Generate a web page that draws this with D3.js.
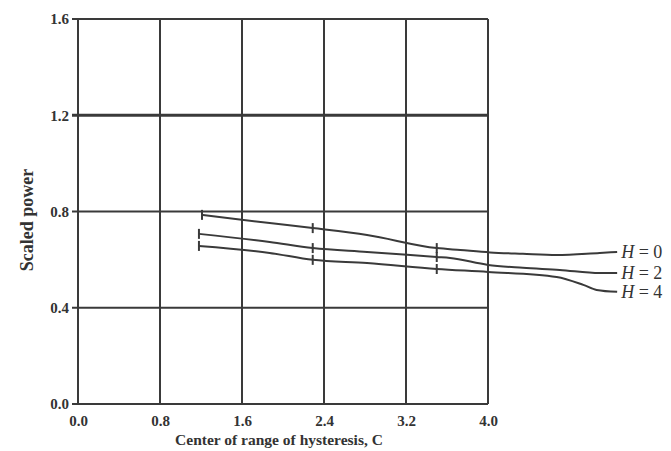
<!DOCTYPE html>
<html><head><meta charset="utf-8">
<script src="https://cdn.jsdelivr.net/npm/d3@7"></script>
<style>body{margin:0;background:#fff}svg{display:block}text{font-family:"Liberation Serif","DejaVu Serif",serif;fill:#333}</style>
</head><body><svg id="c" width="671" height="451"></svg>
<script>
const xTicks = [0, 0.8, 1.6, 2.4, 3.2, 4.0];
const xTickLabels = ["0.0", "0.8", "1.6", "2.4", "3.2", "4.0"];
const yTicks = [0, 0.4, 0.8, 1.2, 1.6];
const yTickLabels = ["0.0", "0.4", "0.8", "1.2", "1.6"];
const seriesNames = ["H = 0", "H = 2", "H = 4"];
const curveC = [
  [1.21, 1.87, 2.29, 2.82, 3.50, 3.73, 4.02, 4.34, 4.67, 5.09, 5.26],
  [1.18, 1.87, 2.29, 2.82, 3.50, 3.63, 4.00, 4.34, 4.70, 5.09, 5.26],
  [1.18, 1.87, 2.29, 2.82, 3.50, 4.00, 4.67, 4.93, 5.06, 5.26]
];
const curveP = [
  [0.786, 0.752, 0.731, 0.702, 0.648, 0.640, 0.630, 0.624, 0.619, 0.628, 0.632],
  [0.707, 0.673, 0.648, 0.632, 0.611, 0.607, 0.578, 0.566, 0.557, 0.544, 0.544],
  [0.657, 0.628, 0.599, 0.586, 0.561, 0.549, 0.528, 0.495, 0.474, 0.466]
];
const markerC = [[1.21, 2.29, 3.50], [1.18, 2.29, 3.50], [1.18, 2.29, 3.50]];
const markerP = [[0.786, 0.731, 0.648], [0.707, 0.648, 0.611], [0.657, 0.599, 0.561]];

const svg = d3.select("#c");
const x = d3.scaleLinear().domain([0, 4.0]).range([78, 488]);
const y = d3.scaleLinear().domain([0, 1.6]).range([404, 19]);
const ink = "#3a3a3a";

// grid
svg.append("g").selectAll("line").data(xTicks).join("line")
  .attr("x1", d => x(d)).attr("x2", d => x(d)).attr("y1", y(0)).attr("y2", y(1.6))
  .attr("stroke", ink).attr("stroke-width", 2);
svg.append("g").selectAll("line").data(yTicks).join("line")
  .attr("x1", x(0) - 6).attr("x2", x(4.0)).attr("y1", d => y(d)).attr("y2", d => y(d))
  .attr("stroke", ink).attr("stroke-width", (d) => d === 1.2 ? 3 : 2);

// axes
const xa = svg.append("g").attr("transform", `translate(0,${y(0)})`)
  .call(d3.axisBottom(x).tickValues(xTicks).tickFormat((d, i) => xTickLabels[i]).tickSize(0).tickPadding(11));
xa.select(".domain").remove();
xa.selectAll("text").attr("font-size", 15).attr("font-weight", "bold").attr("fill", "#444").attr("font-family", "Liberation Serif");
const ya = svg.append("g").attr("transform", `translate(${x(0) - 6},0)`)
  .call(d3.axisLeft(y).tickValues(yTicks).tickFormat((d, i) => yTickLabels[i]).tickSize(0).tickPadding(3));
ya.select(".domain").remove();
ya.selectAll("text").attr("font-size", 15).attr("font-weight", "bold").attr("fill", "#444").attr("font-family", "Liberation Serif");

// axis titles
svg.append("text").attr("x", 279).attr("y", 445).attr("text-anchor", "middle")
  .attr("font-size", 15.5).attr("font-weight", "bold").attr("fill", "#444")
  .text("Center of range of hysteresis, C");
svg.append("text").attr("transform", "translate(33,220) rotate(-90)").attr("text-anchor", "middle")
  .attr("font-size", 18).attr("font-weight", "bold").attr("fill", "#444")
  .text("Scaled power");

// curves
const line = d3.line().x(d => x(d[0])).y(d => y(d[1])).curve(d3.curveMonotoneX);
seriesNames.forEach((name, i) => {
  const pts = curveC[i].map((c, j) => [c, curveP[i][j]]);
  svg.append("path").attr("d", line(pts)).attr("fill", "none").attr("stroke", ink).attr("stroke-width", 2);
  const mk = markerC[i].map((c, j) => [c, markerP[i][j]]);
  svg.append("g").selectAll("line").data(mk).join("line")
    .attr("x1", d => x(d[0])).attr("x2", d => x(d[0]))
    .attr("y1", d => y(d[1]) - 5).attr("y2", d => y(d[1]) + 5)
    .attr("stroke", ink).attr("stroke-width", 2);
  const last = pts[pts.length - 1];
  const t = svg.append("text").attr("x", x(last[0]) + 4).attr("y", y(last[1]) + 6)
    .attr("font-size", 18).attr("fill", "#444");
  t.append("tspan").attr("font-style", "italic").text("H");
  t.append("tspan").text(name.slice(1));
});
</script></body></html>
